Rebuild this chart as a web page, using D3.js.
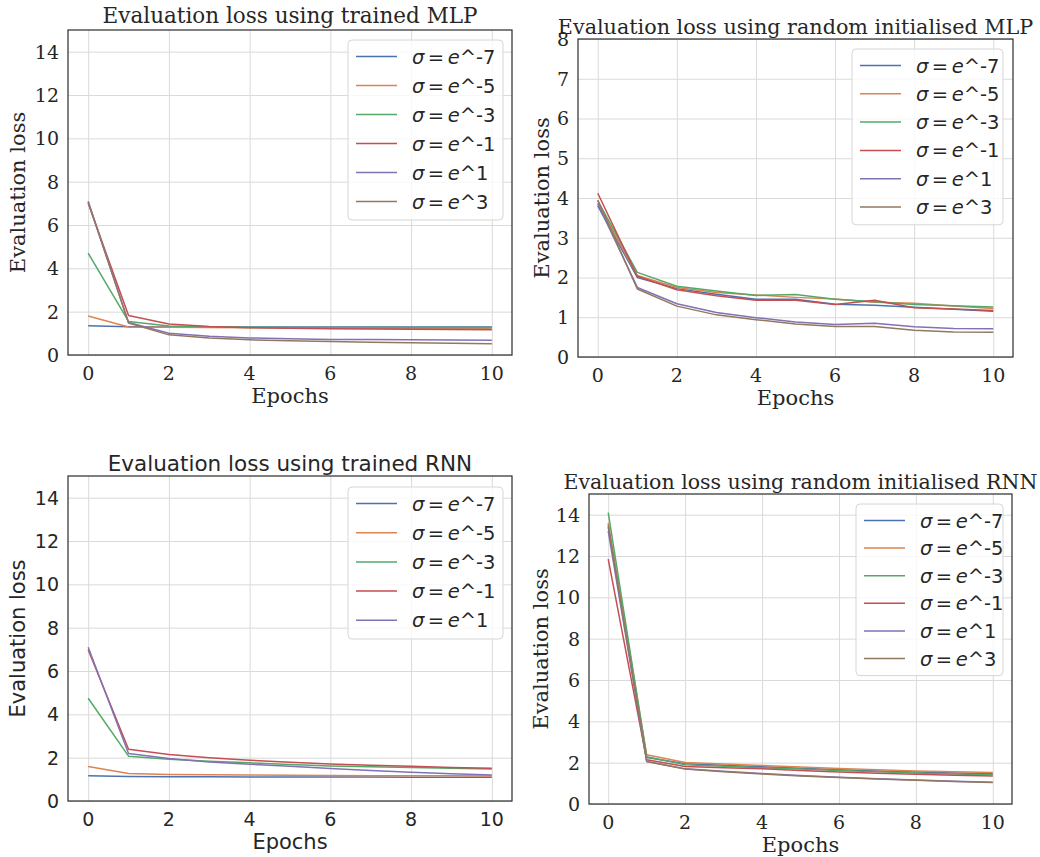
<!DOCTYPE html>
<html>
<head>
<meta charset="utf-8">
<script src="https://cdn.jsdelivr.net/npm/d3@7"></script>
<style>
  body { margin: 0; background: #fff; }
</style>
</head>
<body>
<svg width="1040" height="857"></svg>
<script>
const epochs = [0, 1, 2, 3, 4, 5, 6, 7, 8, 9, 10]
const xTicks = [0, 2, 4, 6, 8, 10]
const sigmaLabels = ['-7', '-5', '-3', '-1', '1', '3']
const colors = ['#4C72B0', '#DD8452', '#55A868', '#C44E52', '#8172B3', '#937860']

// one row per sigma, same order as sigmaLabels
const trainedMlp = [
  [1.35, 1.30, 1.29, 1.29, 1.29, 1.29, 1.29, 1.29, 1.29, 1.29, 1.29],
  [1.80, 1.29, 1.28, 1.27, 1.26, 1.25, 1.25, 1.24, 1.24, 1.24, 1.24],
  [4.70, 1.55, 1.34, 1.30, 1.28, 1.27, 1.27, 1.27, 1.27, 1.27, 1.27],
  [7.00, 1.82, 1.43, 1.32, 1.26, 1.23, 1.21, 1.20, 1.19, 1.18, 1.17],
  [7.05, 1.50, 1.00, 0.86, 0.79, 0.75, 0.72, 0.71, 0.70, 0.69, 0.68],
  [7.10, 1.48, 0.93, 0.78, 0.70, 0.66, 0.62, 0.59, 0.56, 0.54, 0.52]
]
const randomMlp = [
  [3.80, 2.00, 1.72, 1.58, 1.45, 1.45, 1.33, 1.30, 1.25, 1.20, 1.15],
  [3.88, 2.05, 1.75, 1.62, 1.56, 1.50, 1.46, 1.38, 1.35, 1.28, 1.22],
  [3.93, 2.13, 1.78, 1.66, 1.55, 1.57, 1.45, 1.39, 1.32, 1.29, 1.26],
  [4.12, 2.03, 1.69, 1.54, 1.43, 1.43, 1.32, 1.43, 1.24, 1.21, 1.17],
  [3.85, 1.75, 1.34, 1.12, 0.99, 0.88, 0.82, 0.85, 0.76, 0.72, 0.71],
  [3.95, 1.71, 1.28, 1.06, 0.94, 0.83, 0.77, 0.77, 0.67, 0.63, 0.62]
]
const trainedRnn = [
  [1.16, 1.13, 1.12, 1.12, 1.11, 1.11, 1.11, 1.11, 1.10, 1.10, 1.10],
  [1.59, 1.27, 1.22, 1.21, 1.20, 1.19, 1.18, 1.17, 1.17, 1.16, 1.15],
  [4.74, 2.07, 1.93, 1.83, 1.76, 1.68, 1.62, 1.58, 1.55, 1.51, 1.48],
  [6.98, 2.39, 2.15, 2.00, 1.88, 1.79, 1.71, 1.65, 1.60, 1.55, 1.51],
  [7.10, 2.19, 1.96, 1.80, 1.70, 1.60, 1.50, 1.41, 1.33, 1.26, 1.20]
]
const randomRnn = [
  [13.40, 2.25, 1.95, 1.87, 1.80, 1.73, 1.66, 1.60, 1.55, 1.50, 1.46],
  [13.60, 2.38, 2.01, 1.93, 1.86, 1.79, 1.72, 1.66, 1.60, 1.56, 1.52],
  [14.10, 2.29, 1.90, 1.83, 1.76, 1.69, 1.62, 1.56, 1.50, 1.45, 1.41],
  [11.85, 2.14, 1.82, 1.76, 1.70, 1.62, 1.55, 1.49, 1.44, 1.39, 1.35],
  [13.20, 2.06, 1.70, 1.58, 1.47, 1.38, 1.30, 1.22, 1.16, 1.10, 1.05],
  [13.50, 2.06, 1.69, 1.56, 1.45, 1.36, 1.28, 1.21, 1.15, 1.09, 1.04]
]

const serif = '"DejaVu Serif", serif'
const sans = '"DejaVu Sans", sans-serif'
const textColor = '#262626'

const svg = d3.select('svg')

const panels = [
  { title: 'Evaluation loss using trained MLP', data: trainedMlp, font: serif, titleSize: 21.5,
    left: 68, right: 512, top: 30, bottom: 355, yMax: 15, yTicks: d3.range(0, 15, 2),
    titleY: 23, ylabelX: 17, legend: { x: 348, y: 40, w: 155, step: 29 } },
  { title: 'Evaluation loss using random initialised MLP', data: randomMlp, font: serif, titleSize: 20.7,
    left: 578, right: 1013, top: 39, bottom: 357, yMax: 8, yTicks: d3.range(0, 9, 1),
    titleY: 34, ylabelX: 541, legend: { x: 852, y: 49, w: 151, step: 28.3 } },
  { title: 'Evaluation loss using trained RNN', data: trainedRnn, font: sans, titleSize: 21.5,
    left: 68, right: 512, top: 476, bottom: 801, yMax: 15, yTicks: d3.range(0, 15, 2),
    titleY: 471, ylabelX: 17, legend: { x: 348, y: 487, w: 155, step: 29.2 } },
  { title: 'Evaluation loss using random initialised RNN', data: randomRnn, font: serif, titleSize: 20.5,
    left: 589, right: 1012, top: 494, bottom: 804, yMax: 15, yTicks: d3.range(0, 15, 2),
    titleY: 489, ylabelX: 540, legend: { x: 856, y: 504, w: 147, step: 27.6 } }
]

const drawPanel = p => {
  const xScale = d3.scaleLinear().domain([-0.5, 10.5]).range([p.left, p.right])
  const yScale = d3.scaleLinear().domain([0, p.yMax]).range([p.bottom, p.top])
  const g = svg.append('g')

  // grid
  g.append('g')
    .attr('transform', `translate(0, ${p.bottom})`)
    .call(d3.axisBottom(xScale).tickValues(xTicks).tickSize(-(p.bottom - p.top)).tickFormat(''))
    .call(a => a.select('.domain').remove())
    .call(a => a.selectAll('line').attr('stroke', '#dadada').attr('stroke-width', 1))
  g.append('g')
    .attr('transform', `translate(${p.left}, 0)`)
    .call(d3.axisLeft(yScale).tickValues(p.yTicks).tickSize(-(p.right - p.left)).tickFormat(''))
    .call(a => a.select('.domain').remove())
    .call(a => a.selectAll('line').attr('stroke', '#dadada').attr('stroke-width', 1))

  // tick labels
  g.append('g').selectAll('text').data(xTicks).enter().append('text')
    .attr('x', d => xScale(d))
    .attr('y', p.bottom + 25)
    .attr('text-anchor', 'middle')
    .attr('font-family', p.font).attr('font-size', 19).attr('fill', textColor)
    .text(d => d)
  g.append('g').selectAll('text').data(p.yTicks).enter().append('text')
    .attr('x', p.left - 9)
    .attr('y', d => yScale(d))
    .attr('dy', '0.36em')
    .attr('text-anchor', 'end')
    .attr('font-family', p.font).attr('font-size', 19).attr('fill', textColor)
    .text(d => d)

  // lines
  const line = d3.line().x((d, i) => xScale(epochs[i])).y(d => yScale(d))
  p.data.forEach((series, k) => {
    g.append('path')
      .datum(series)
      .attr('d', line)
      .attr('fill', 'none')
      .attr('stroke', colors[k])
      .attr('stroke-width', 1.5)
      .attr('stroke-linejoin', 'round')
  })

  // frame
  g.append('rect')
    .attr('x', p.left).attr('y', p.top)
    .attr('width', p.right - p.left).attr('height', p.bottom - p.top)
    .attr('fill', 'none').attr('stroke', '#333').attr('stroke-width', 1.25)

  // title and axis labels
  g.append('text')
    .attr('x', (p.left + p.right) / 2).attr('y', p.titleY)
    .attr('text-anchor', 'middle')
    .attr('font-family', p.font).attr('font-size', p.titleSize).attr('fill', textColor)
    .text(p.title)
  g.append('text')
    .attr('x', (p.left + p.right) / 2).attr('y', p.bottom + 48)
    .attr('text-anchor', 'middle')
    .attr('font-family', p.font).attr('font-size', 21).attr('fill', textColor)
    .text('Epochs')
  g.append('text')
    .attr('transform', `translate(${p.ylabelX}, ${(p.top + p.bottom) / 2}) rotate(-90)`)
    .attr('dy', '0.36em')
    .attr('text-anchor', 'middle')
    .attr('font-family', p.font).attr('font-size', 21).attr('fill', textColor)
    .text('Evaluation loss')

  // legend
  const L = p.legend
  const n = p.data.length
  const lg = g.append('g').attr('transform', `translate(${L.x}, ${L.y})`)
  lg.append('rect')
    .attr('width', L.w).attr('height', L.step * n + 6)
    .attr('rx', 4)
    .attr('fill', 'white').attr('fill-opacity', 0.8)
    .attr('stroke', '#d6d6d6').attr('stroke-width', 1)
  sigmaLabels.slice(0, n).forEach((s, k) => {
    const cy = 16.5 + k * L.step
    lg.append('line')
      .attr('x1', 8).attr('x2', 49).attr('y1', cy).attr('y2', cy)
      .attr('stroke', colors[k]).attr('stroke-width', 1.5)
    const t = lg.append('text')
      .attr('x', 64).attr('y', cy).attr('dy', '0.36em')
      .attr('font-family', sans).attr('font-size', 19.5).attr('fill', textColor)
    t.append('tspan').attr('font-style', 'italic').text('σ')
    t.append('tspan').attr('dx', 3.5).text('=')
    t.append('tspan').attr('dx', 3.5).attr('font-style', 'italic').text('e')
    t.append('tspan').text('^' + s)
  })
}

panels.forEach(drawPanel)
</script>
</body>
</html>
